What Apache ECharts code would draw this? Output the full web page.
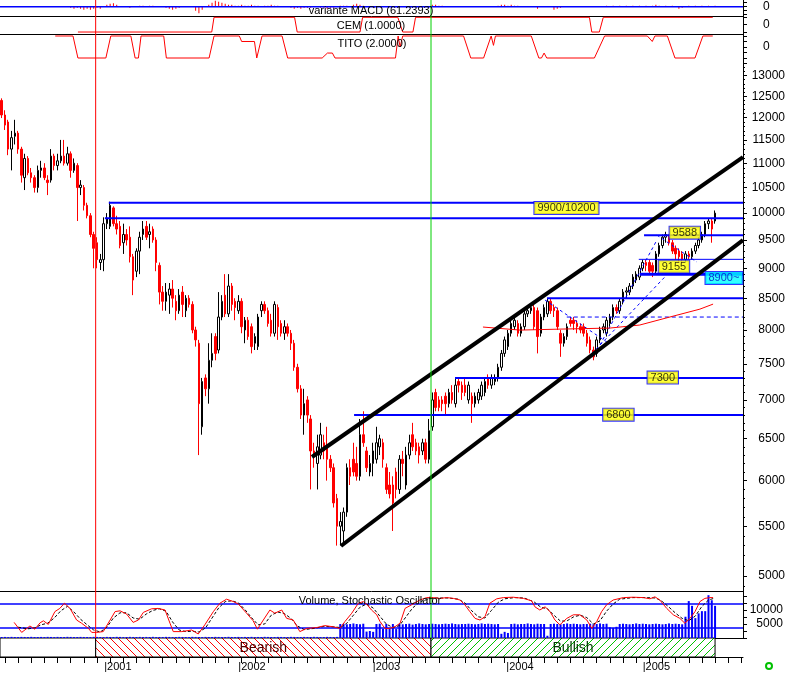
<!DOCTYPE html>
<html><head><meta charset="utf-8">
<script src="https://cdn.jsdelivr.net/npm/echarts@6/dist/echarts.min.js"></script>
<style>html,body{margin:0;padding:0;background:#fff}#c{width:790px;height:675px}</style>
</head><body><div id="c"></div>
<script>
// ================= DATA =================
// candles: [open, close, low, high]
const candles = [
[12400,12060,11990,12450],[12060,11830,11720,12170],[11900,11300,11170,11950],[11300,11550,10850,11700],
[11580,11650,11400,11950],[11650,11300,11200,11700],[11300,10750,10600,11350],[10700,11100,10450,11200],
[11100,10800,10750,11150],[10800,10700,10600,10900],[10700,10500,10400,10750],[10500,10850,10400,10950],
[10850,10900,10700,11050],[10900,10700,10650,11000],[10650,10600,10350,10750],[10650,11150,10600,11300],
[11150,10950,10850,11200],[10950,11050,10850,11200],[11050,11150,11000,11500],[11150,11000,10950,11500],
[11000,11200,10950,11350],[11200,10850,10700,11250],[10850,11000,10800,11100],[10950,10500,9850,11000],
[10500,10550,10350,10650],[10500,10150,10050,10550],[10150,9950,9900,10200],[9950,9600,9550,10000],
[9600,9350,9000,9650],[9450,9150,9000,9550],[9100,9150,8970,9250],[9150,9800,8950,9920],
[9800,9900,9700,10000],[9750,10150,9700,10220],[10100,9800,9750,10130],[9800,9700,9600,9950],
[9750,9400,9350,9850],[9450,9600,9250,9800],[9600,9500,9400,9700],[9550,9200,9100,9750],
[9200,8800,8550,9250],[8950,9300,8850,9350],[9300,9550,8900,9650],[9600,9700,9500,9850],
[9750,9550,9500,9850],[9600,9650,9350,9800],[9700,9500,9450,9750],[9500,9100,8950,9550],
[9050,8600,8400,9100],[8600,8450,8300,8700],[8450,8600,8300,8750],[8550,8650,8250,8750],
[8650,8500,8350,8800],[8450,8300,8150,8550],[8300,8550,8250,8650],[8600,8400,8200,8700],
[8300,8500,8200,8550],[8500,8400,8350,8550],[8400,8000,7950,8450],[8000,7850,7750,8050],
[7800,6950,6300,7850],
[6650,7250,6550,7300],[7300,7150,7050,7350],[7150,7550,6950,7800],[7550,7650,7450,7950],
[7900,7650,7550,7950],[7700,8200,7650,8600],[8200,8450,8150,8550],[8550,8250,8200,8900],
[8250,8700,8200,8900],[8700,8400,8300,8750],[8450,8350,8150,8500],[8300,8450,8250,8550],
[8450,8050,7950,8500],[8000,8150,7800,8200],[8150,7900,7850,8200],[8050,7750,7650,8100],
[7800,7900,7700,7950],[7750,8200,7700,8250],[8300,8400,8200,8450],[8400,8300,8250,8450],
[8300,8100,8050,8350],[8150,7950,7900,8250],[7950,8400,7900,8450],[8350,8050,7850,8400],
[8100,7950,7900,8150],[7950,8050,7850,8150],[8050,7950,7900,8100],[7950,7800,7700,8000],
[7800,7450,7400,7850],[7450,7150,7100,7500],[7150,6800,6750,7200],[6800,6950,6550,7150],
[7000,6800,6700,7050],[6750,6350,5900,6800],[6350,6300,6150,6450],[6200,6400,5900,6550],
[6300,6550,6250,6700],[6450,6350,6250,6550],[6400,6250,6000,6650],[6250,6150,6100,6300],
[6150,5750,5700,6200],[5800,5500,5300,5850],[5500,5550,5300,5650],[5450,5650,5320,5700],
[5650,6150,5600,6200],[6150,6050,5950,6250],[6250,6100,6050,6450],[6200,6050,6000,6400],
[6050,6550,6000,6750],[6550,6450,6400,6850],[6350,6150,6100,6400],[6100,6200,6050,6300],
[6200,6350,6050,6450],[6250,6450,6200,6650],[6400,6500,6300,6550],[6450,6250,6150,6500],
[6150,5900,5850,6200],[5950,5850,5800,6100],[5950,5750,5450,6050],[6100,5900,5800,6150],
[5900,6250,5850,6300],[6250,6200,6050,6350],[5950,6300,5900,6400],[6300,6450,6250,6550],
[6550,6400,6350,6700],[6450,6350,6300,6500],[6400,6300,6200,6450],[6350,6450,6300,6500],
[6450,6250,6200,6500],[6250,6600,6200,6750],[6650,7000,6600,7100],[7100,6900,6850,7150],
[7000,6900,6850,7050],[7000,6950,6850,7050],[7050,6950,6800,7100],[6950,7100,6900,7150],
[7100,7000,6950,7200],[6950,7200,6900,7300],[7250,7200,7100,7300],[7200,7100,7000,7250],
[7200,7100,7050,7300],[7000,7200,6950,7250],[7050,6950,6700,7100],[6950,7050,6900,7100],
[7000,7100,6950,7150],[7050,7200,7000,7250],[7100,7250,7050,7300],[7300,7200,7150,7350],
[7200,7300,7150,7350],[7250,7300,7200,7350],[7300,7450,7250,7500],[7450,7650,7400,7700],
[7650,7850,7600,7900],[7750,7950,7700,8000],[7950,8100,7900,8150],[8050,8150,8000,8200],
[8100,7950,7900,8150],[7950,8050,7900,8100],[8050,8250,8000,8300],[8250,8300,8200,8350],
[8300,8350,8250,8400],[8350,8050,8000,8400],[8300,7900,7650,8350],[7950,8200,7900,8250],
[8200,8350,8150,8400],[8250,8450,8200,8500],[8450,8300,8250,8500],[8350,8300,8200,8400],
[8300,8050,8000,8350],[7950,7800,7600,8000],[7800,7900,7750,7950],[7900,8050,7850,8100],
[8150,8100,8050,8200],[8150,8100,8000,8200],[8100,8050,7950,8150],[8050,8000,7950,8100],
[8050,7950,7900,8100],[7950,7800,7750,8000],[7850,7700,7650,7900],[7700,7600,7550,7750],
[7650,7850,7600,7900],[7850,8000,7800,8050],[8000,8050,7950,8100],[7950,8150,7900,8200],
[8100,8200,8050,8250],[8200,8350,8150,8400],[8350,8300,8250,8400],[8300,8450,8250,8500],
[8450,8600,8400,8650],[8600,8620,8500,8680],[8600,8700,8550,8750],[8700,8850,8650,8900],
[8800,8900,8750,8950],[8850,9000,8800,9050],[9000,9100,8950,9150],[9100,9050,8950,9150],
[9100,8950,8900,9150],[9050,8950,8850,9100],[8950,9250,8900,9300],[9250,9400,9200,9450],
[9400,9550,9350,9600],[9550,9600,9450,9650],[9550,9450,9400,9600],[9450,9300,9250,9500],
[9350,9250,9150,9400],[9300,9200,9100,9350],[9250,9150,9100,9300],[9150,9250,9100,9300],
[9250,9200,9150,9300],[9200,9300,9150,9350],[9300,9400,9250,9450],[9400,9500,9350,9550],
[9500,9600,9450,9650],[9600,9800,9550,9850],[9800,9850,9700,9900],[9850,9700,9450,9900],
[9850,10000,9800,10050]
];
const volume = [
350,380,320,400,360,340,390,370,330,410,360,350,380,340,400,370,330,390,360,350,
410,380,340,360,390,370,350,330,400,380,360,340,390,370,350,410,380,330,360,400,
370,350,390,340,380,360,410,330,370,350,400,380,340,360,390,370,350,330,410,380,
360,340,390,370,350,400,380,330,360,410,370,350,390,340,380,360,400,330,370,350,
410,380,340,360,390,370,350,330,400,380,360,340,390,370,350,410,380,330,360,400,
370,350,390,
5000,5100,4900,5000,5200,5000,4900,5100,2300,2500,2200,5000,5100,
3300,5000,3400,5000,3200,5000,4900,5000,5100,4800,5000,5200,5000,4900,5000,
5100,5000,4900,5000,5100,5000,5200,5000,4900,5000,5000,5100,5000,4900,5000,5200,5000,5100,5000,4900,
5000,1500,2200,1800,5000,5100,4900,5000,5000,5200,5000,4900,5100,5000,5000,800,
5000,5100,5000,4900,5000,5200,5000,5100,5000,4900,5000,5000,5100,4900,5000,5200,5000,5100,
3800,3600,4000,5000,5100,5000,4900,5000,5200,5000,5100,5000,4900,
5000,5100,5000,4900,5000,5200,5000,5100,5000,4900,
7600,13200,11500,7100,8800,9600,9600,15300,13500,11500
];
// [period index, value]
const stochK = [[3.8,34],[6.1,9],[8.6,25],[10.1,17],[11.7,33],[12.7,38],[14.2,29],[16.2,61],[17.7,69],[19.1,82],[20.8,69],[22.8,40],[24.3,32],[26.4,19],[27.4,9],[28.9,9],[30.9,11],[33,40],[34.5,61],[36,63],[38,55],[40,34],[41.6,40],[43.1,59],[45.6,68],[47.6,69],[49.7,65],[51.2,32],[52.2,11],[54.8,11],[57.8,15],[59.8,5],[61.8,28],[64.4,61],[66.4,82],[68.4,92],[70.5,86],[72,80],[74.5,57],[76.5,38],[77.8,17],[79.6,40],[81.6,65],[83.1,57],[85.2,65],[86.7,44],[88.7,40],[90.7,11],[92.8,19],[95.8,21],[98.3,26],[100.9,23],[102.9,19],[104.4,36],[106.5,57],[108.5,82],[110,86],[111.2,78],[112.5,65],[114.1,53],[115.1,36],[116.6,19],[118.1,19],[119.6,23],[121.2,32],[122.7,69],[124.7,78],[127.2,90],[129.3,96],[131.3,96],[133.3,94],[135.4,96],[137.4,94],[139.4,90],[140.9,78],[142.4,61],[144,44],[145.5,40],[147,48],[148.5,82],[150.6,93],[152.6,96],[155.6,97],[158.7,94],[161.2,88],[162.2,73],[163.7,65],[165.3,73],[166.8,61],[168.3,40],[169.8,28],[171.9,44],[173.9,53],[175.9,53],[178,40],[179.5,19],[181,36],[182.5,61],[184,78],[186,90],[189.1,96],[192.1,97],[195.2,96],[197.2,93],[198.7,98],[200.2,90],[202.3,69],[204.3,53],[206.3,44],[207.8,32],[209.4,44],[210.9,61],[212.4,86],[213.9,94],[215.4,96],[216.4,96]];
const stochD = [[5,22],[8,18],[10,20],[12,28],[14,32],[16,45],[18,63],[20,74],[22,60],[24,42],[26,28],[28,15],[30,10],[32,22],[34,45],[36,58],[38,58],[40,45],[42,42],[44,55],[46,64],[48,68],[50,62],[52,35],[54,15],[56,11],[58,12],[60,10],[62,20],[64,45],[66,70],[68,86],[70,88],[72,83],[74,66],[76,46],[78,28],[80,30],[82,52],[84,60],[86,56],[88,44],[90,25],[92,16],[95,19],[98,24],[101,23],[103,21],[105,32],[107,52],[109,72],[111,80],[113,70],[115,50],[117,30],[119,21],[121,26],[123,48],[125,70],[127,84],[129,92],[132,95],[136,95],[139,92],[141,82],[143,63],[145,48],[147,45],[149,64],[151,84],[153,93],[156,96],[159,95],[162,85],[164,72],[166,68],[168,52],[170,37],[172,38],[174,48],[176,52],[178,46],[180,30],[182,38],[184,62],[186,80],[188,92],[192,96],[196,96],[199,95],[201,86],[203,72],[205,57],[207,44],[209,38],[211,50],[213,74],[215,90],[217,95]];
const macdHist = [[21,-1],[22,-2],[23,-1],[24,-2],[25,-3],[26,-2],[27,-3],[28,-2],[29,-1],[30,-2],[32,2],[33,3],[34,3.4],[35,2],[39,-1],[42,1],[43,1],[44,0.6],[45,1],[46,1],[47,0.6],[50,-1],[51,-2],[52,-3],[53,-2],[54,-1],[59,-4],[60,-6.6],[61,-3],[63,2],[64,4],[65,6],[66,5],[67,4],[68,3],[69,2],[70,2],[71,1],[72,1],[73,2],[74,1],[75,1],[76,2],[77,1],[78,1],[79,0.6],[80,1],[81,1],[82,2],[83,1],[84,1],[88,-1],[89,-2],[90,-1],[91,-2],[92,-1],[93,-1],[94,-1],[97,-1],[98,-1],[99,-2],[100,-1],[101,-1],[103,1],[104,1],[105,1],[107,2],[108,3],[109,2],[110,1],[131,2],[132,2],[133,1],[134,1],[151,1],[152,2],[153,2],[154,1],[155,2],[156,1],[157,1],[163,-2],[168,-3],[169,-2],[170,-1],[184,1],[186,1],[188,1],[190,1],[192,1],[194,1],[196,1],[198,1],[199,2],[200,1],[202,1],[204,1],[206,-2],[207,-1],[209,1],[211,1],[213,1],[215,1],[217,1]];
const cemLine = [[23.2,-1],[63.9,-1],[64.6,1],[89.1,1],[89.9,-1],[109,-1],[109.8,1],[120.5,1],[122,-1],[125.1,-1],[125.9,1],[178.8,1],[179.5,-1],[181.8,-1],[183,1],[216.3,1]];
const titoLine = [[16.3,2],[21.7,2],[23.2,-2],[31.7,-2],[33.2,2],[39.3,2],[40.6,-2],[41.6,-2],[42.4,2],[49.3,2],[50.1,-2],[63.1,-2],[64.6,2],[72.3,2],[73,1],[76.9,1],[77.6,-2],[79.2,2],[85.3,2],[87,-2],[97.5,-2],[99.1,-1.1],[100.6,-1.1],[101.4,-2],[119.8,-2],[120.6,2],[121.2,0],[122,2],[140.5,2],[142.7,-2],[146.6,-2],[148.9,2],[149.6,0.3],[150.2,2],[161.1,2],[163.4,-2],[164.2,-2],[165,-1.1],[165.8,-2],[180.3,-2],[183.4,2],[196.4,2],[197.9,1],[198.7,2],[202.5,2],[204.8,-2],[210.9,-2],[213.3,2],[216.3,2]];
const levelPrices = [10200, 9900, 9588, 9155, 8900, 8500, 7300, 6800];
const levelStarts = [32.6, 31.4, 195.4, 193.8, 194.1, 165.9, 137.9, 107.2];
const dashedLevelPrices = [8200];
const dashedLevelStarts = [171.9];
const channelUpper = [[94.4, 6277], [225.5, 11128]];
const channelLower = [[103.2, 5296], [225.5, 9497]];
const fanLines = [
  [[165.3, 8470], [184.1, 7818]],
  [[178.3, 7585], [201.7, 8851]],
  [[182.0, 7774], [199.3, 9497]],
  [[199.3, 9589], [211.5, 9107]]
];
const maLine = [[146.4,8045],[157.7,7998],[169.8,8013],[185,8029],[194.1,8076],[203.3,8201],[212.4,8325],[216.4,8405]];
const notes = ['9900/10200', '9588', '9155', '8900~', '7300', '6800'];
const noteAt = [[171.8, 10096], [207.8, 9634], [204.5, 9029], [219.7, 8834], [201.1, 7305], [187.6, 6806]];
const priceTicks = [5000,5500,6000,6500,7000,7500,8000,8500,9000,9500,10000,10500,11000,11500,12000,12500,13000];
const volTicks = [5000, 10000];
const yearLabels = ['2001', '2002', '2003', '2004', '2005'];
const yearStarts = [31.2, 72.0, 112.9, 153.5, 195.0];
const phaseNames = ['', 'Bearish', 'Bullish'];
const phaseSpans = [[-0.5, 28.6], [28.6, 130.6], [130.6, 217.0]];
const markerDates = [28.6, 130.6];

// ================= BUILD =================
const SLOTS = 226;
const xMin = -0.5, xMax = SLOTS - 0.5;
const L = v => Math.log10(v);
const pMin = L(4860), pMax = L(13243);
const font = 'Liberation Sans';
const slots = Array.from({length: SLOTS}, (_, i) => i);
const minorTicks = []; for (let p = 4900; p <= 13200; p += 100) minorTicks.push(L(p));
const periodTicks = []; for (let i = 1; i < SLOTS; i += 4) periodTicks.push(i);

function hatch(color, back) {
  const c = document.createElement('canvas'); c.width = 8; c.height = 8;
  const g = c.getContext('2d');
  g.fillStyle = '#fff'; g.fillRect(0, 0, 8, 8);
  g.strokeStyle = color; g.lineWidth = 1; g.beginPath();
  if (back) { g.moveTo(0,0); g.lineTo(8,8); g.moveTo(-1,7); g.lineTo(1,9); g.moveTo(7,-1); g.lineTo(9,1); }
  else { g.moveTo(0,8); g.lineTo(8,0); g.moveTo(-1,1); g.lineTo(1,-1); g.moveTo(7,9); g.lineTo(9,7); }
  g.stroke(); return c;
}
const phaseFills = ['#ffffff', {image: hatch('#ff0000', true), repeat: 'repeat'}, {image: hatch('#00c000', false), repeat: 'repeat'}];
const phaseText = ['#000', '#500000', '#003800'];

const G = (top, height) => ({left: 0, width: 743, top, height});
const lineX = (g, pos) => ({type: 'value', gridIndex: g, min: xMin, max: xMax, position: pos,
  axisLine: {show: true, onZero: false, lineStyle: {color: '#000', width: 1}}, axisTick: {show: false}, axisLabel: {show: false}, splitLine: {show: false}});
const hidX = g => ({type: 'value', gridIndex: g, min: xMin, max: xMax, show: false});
const rightY = (g, min, max, ticks, labels, lab) => ({type: 'value', gridIndex: g, min, max, position: 'right',
  axisLine: {show: true, onZero: false, lineStyle: {color: '#000'}},
  axisTick: {show: true, customValues: ticks, length: 4, lineStyle: {color: '#000'}},
  axisLabel: Object.assign({show: true, customValues: labels, color: '#000', fontFamily: font, fontSize: 12}, lab),
  splitLine: {show: false}});

const seg = (pts, xi, yi, color, width, type, z) => ({type: 'line', xAxisIndex: xi, yAxisIndex: yi, data: pts, symbol: 'none',
  lineStyle: {color, width, type: type || 'solid'}, silent: true, z: z || 3, animation: false});

const series = [];
// MACD
series.push(seg([[xMin, 0], [xMax, 0]], 0, 0, '#0000ff', 1.5));
series.push({type: 'bar', xAxisIndex: 0, yAxisIndex: 0, data: macdHist, barWidth: 1, itemStyle: {color: '#ff0000'}, silent: true});
// CEM / TITO
series.push(seg(cemLine, 1, 1, '#ff0000', 1));
series.push(seg(titoLine, 2, 2, '#ff0000', 1));
// candles
series.push({type: 'candlestick', xAxisIndex: 3, yAxisIndex: 3, data: candles.map(c => c.map(L)), barWidth: 2, z: 1, silent: true,
  itemStyle: {color: '#ffffff', color0: '#ff0000', borderColor: '#000000', borderColor0: '#ff0000', borderWidth: 1}});
// levels
const levelWidths = [2, 2, 2, 1, 3, 2, 2, 2];
levelPrices.forEach((p, k) => series.push(seg([[levelStarts[k], L(p)], [xMax, L(p)]], 4, 3, '#0000ff', levelWidths[k])));
dashedLevelPrices.forEach((p, k) => series.push(seg([[dashedLevelStarts[k], L(p)], [xMax, L(p)]], 4, 3, '#0000ff', 1, [4, 3])));
fanLines.forEach(f => series.push(seg(f.map(q => [q[0], L(q[1])]), 4, 3, '#0000ff', 1, [3, 3])));
series.push(seg(maLine.map(q => [q[0], L(q[1])]), 4, 3, '#ff0000', 1));
series.push(seg(channelUpper.map(q => [q[0], L(q[1])]), 4, 3, '#000000', 4, 'solid', 4));
series.push(seg(channelLower.map(q => [q[0], L(q[1])]), 4, 3, '#000000', 4, 'solid', 4));
series.push({type: 'scatter', xAxisIndex: 4, yAxisIndex: 3, symbolSize: 1, itemStyle: {color: 'rgba(0,0,0,0)'}, z: 10, silent: true,
  label: {show: true, position: 'inside', formatter: '{b}', fontFamily: font, fontSize: 11, color: '#000',
    backgroundColor: '#ffff00', borderColor: '#0000ff', borderWidth: 1, padding: [1, 3, 0, 3]},
  data: notes.map((t, k) => {
    const d = {name: t, value: [noteAt[k][0], L(noteAt[k][1])]};
    if (t === '8900~') d.label = {backgroundColor: '#00ffff', color: '#0000cc'};
    return d;
  })});
// volume + stochastic
series.push({type: 'bar', xAxisIndex: 5, yAxisIndex: 5, data: volume, barWidth: 2, itemStyle: {color: '#0000ff'}, silent: true});
series.push(seg([[xMin, 20], [xMax, 20]], 6, 6, '#0000ff', 1.5));
series.push(seg([[xMin, 80], [xMax, 80]], 6, 6, '#0000ff', 1.5));
series.push(seg(stochD, 6, 6, '#000000', 1, [3, 2], 4));
series.push(seg(stochK, 6, 6, '#ff0000', 1, 'solid', 5));
// phase strip
series.push({type: 'custom', xAxisIndex: 7, yAxisIndex: 7, silent: true,
  data: phaseSpans.map((s, k) => [s[0], s[1], k]),
  renderItem(params, api) {
    const a = api.coord([api.value(0), 1]), b = api.coord([api.value(1), 0]);
    const k = api.value(2);
    return {type: 'group', children: [
      {type: 'rect', shape: {x: a[0], y: a[1], width: b[0] - a[0], height: b[1] - a[1]},
        style: {fill: phaseFills[k], stroke: '#000', lineWidth: 1}},
      {type: 'text', style: {text: phaseNames[k], x: (a[0] + b[0]) / 2, y: (a[1] + b[1]) / 2 + 1,
        align: 'center', verticalAlign: 'middle', font: '14px "Liberation Sans"', fill: phaseText[k]}}
    ]};
  }});
// marker verticals
series.push(seg([[markerDates[0], 0], [markerDates[0], 1]], 8, 8, '#ff0000', 1, 'solid', 6));
series.push(seg([[markerDates[1], 0], [markerDates[1], 1]], 8, 8, '#00d000', 1, 'solid', 6));

const txt = (t, x, y, size) => ({type: 'text', x, y, z: 100, silent: true,
  style: {text: t, align: 'center', verticalAlign: 'middle', font: (size || 11) + 'px "Liberation Sans"', fill: '#000'}});

const option = {
  animation: false,
  grid: [G(0, 16), G(16, 18), G(34, 32), G(66, 525), G(591, 47), G(638, 19), G(0, 638), G(66, 525)],
  xAxis: [
    lineX(0, 'bottom'),
    lineX(1, 'bottom'),
    hidX(2),
    {type: 'category', gridIndex: 3, data: slots, show: false, boundaryGap: true},
    hidX(3),
    {type: 'category', gridIndex: 4, data: slots, position: 'top', boundaryGap: true,
      axisLine: {show: true, onZero: false, lineStyle: {color: '#000'}}, axisTick: {show: false}, axisLabel: {show: false}},
    lineX(4, 'bottom'),
    {type: 'value', gridIndex: 5, min: xMin, max: xMax, position: 'bottom',
      axisLine: {show: true, onZero: false, lineStyle: {color: '#000'}},
      axisTick: {show: true, customValues: periodTicks, length: 6, lineStyle: {color: '#000'}},
      axisLabel: {show: true, customValues: yearStarts, align: 'left', margin: 4, color: '#000', fontFamily: font, fontSize: 11,
        formatter: v => '|' + yearLabels[yearStarts.findIndex(s => Math.abs(s - v) < 0.01)]},
      splitLine: {show: false}},
    hidX(6),
    hidX(7)
  ],
  yAxis: [
    rightY(0, -9.3, 6.7, [-8, -4, 0, 4], [0], {margin: 20, align: 'left'}),
    rightY(1, -1.27, 1.18, [-1, 0, 1], [0], {margin: 20, align: 'left'}),
    rightY(2, -3.4545, 2.3636, [-3, -2, -1, 0, 1, 2], [0], {margin: 20, align: 'left'}),
    rightY(3, pMin, pMax, priceTicks.map(L), priceTicks.map(L), {margin: 42, align: 'right',
      formatter: v => String(Math.round(Math.pow(10, v)))}),
    {type: 'value', gridIndex: 7, min: pMin, max: pMax, position: 'right', axisLine: {show: false, onZero: false},
      axisTick: {show: true, customValues: minorTicks, length: 2, lineStyle: {color: '#000'}}, axisLabel: {show: false}, splitLine: {show: false}},
    rightY(4, 0, 16800, [0, 2500, 5000, 7500, 10000, 12500, 15000], volTicks, {margin: 40, align: 'right',
      formatter: v => String(v)}),
    {type: 'value', gridIndex: 4, min: -5, max: 112.5, show: false},
    {type: 'value', gridIndex: 5, min: 0, max: 1, show: false},
    {type: 'value', gridIndex: 6, min: 0, max: 1, show: false}
  ],
  series,
  graphic: [
    txt('variante MACD (61.2393)', 371, 11),
    txt('CEM (1.0000)', 371, 26),
    txt('TITO (2.0000)', 372, 44),
    txt('Volume, Stochastic Oscillator', 370, 601),
    {type: 'circle', shape: {cx: 769, cy: 666, r: 3}, style: {fill: 'none', stroke: '#00c000', lineWidth: 2}, z: 100}
  ]
};
const chart = echarts.init(document.getElementById('c'), null, {renderer: 'canvas'});
chart.setOption(option);
</script></body></html>
